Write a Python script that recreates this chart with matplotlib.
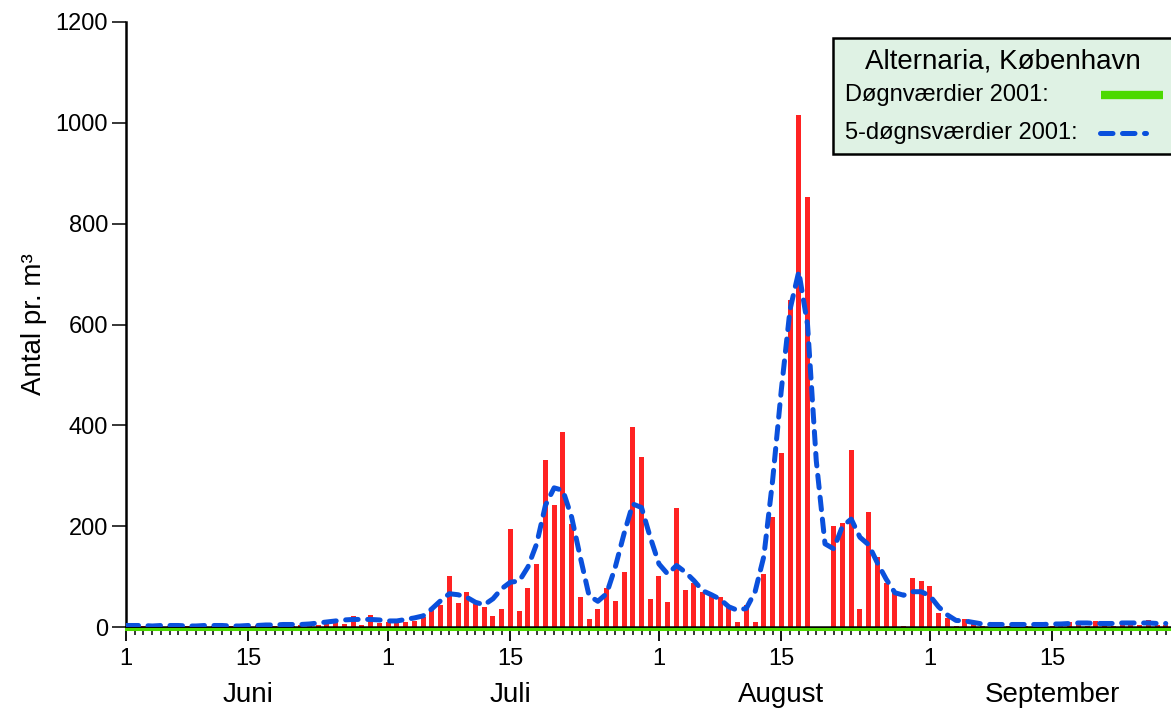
import numpy as np
import matplotlib
matplotlib.use("Agg")
import matplotlib.pyplot as plt
from matplotlib.lines import Line2D
from matplotlib.patches import Rectangle
import matplotlib.transforms as mtransforms

plt.rcParams['font.family'] = ['Liberation Sans', 'DejaVu Sans']

# daily counts, 1 June (day 0) to 28 September 2001
daily = [2, 1, 2, 1, 2, 1, 1, 2, 1, 1, 2, 1, 2, 1, 2, 3, 2, 2, 5, 2,
         4, 2, 3, 11, 9, 5, 22, 3, 24, 8, 9, 7, 9, 12, 19, 33, 44, 102, 47, 70,
         45, 39, 21, 35, 195, 31, 78, 124, 332, 241, 387, 205, 60, 15, 35, 78, 52, 110, 397, 338,
         56, 102, 49, 237, 74, 88, 69, 62, 59, 42, 10, 44, 10, 105, 218, 346, 649, 1016, 853, 0,
         0, 201, 206, 352, 35, 229, 138, 88, 67, 1, 98, 92, 82, 27, 17, 2, 15, 11, 2, 2,
         1, 2, 2, 1, 3, 2, 2, 3, 9, 3, 2, 11, 3, 2, 3, 9, 4, 13, 4, 3]

# 5-day values
five_day = [3, 3, 3, 2, 3, 3, 3, 2, 2, 3, 3, 3, 2, 2, 3, 3, 4, 4, 5, 5,
            5, 6, 8, 10, 12, 14, 15, 15, 15, 14, 12, 12, 15, 18, 22, 36, 52, 66, 64, 59,
            49, 44, 56, 76, 89, 91, 119, 165, 241, 276, 271, 218, 138, 62, 51, 66, 119, 185, 244, 237,
            178, 125, 105, 122, 109, 92, 72, 64, 55, 40, 33, 37, 70, 140, 290, 470, 630, 705, 600, 330,
            165, 155, 200, 214, 178, 163, 127, 95, 68, 63, 70, 70, 62, 40, 24, 13, 12, 9, 6, 5,
            5, 5, 5, 5, 5, 5, 6, 6, 7, 8, 8, 7, 7, 7, 8, 8, 8, 8, 7, 7]

days = np.arange(len(daily))

month_names = ['Juni', 'Juli', 'August', 'September']
month_mid = [14, 44, 75, 106]
tick_days = [0, 14, 30, 44, 61, 75, 92, 106]
tick_labels = ['1', '15', '1', '15', '1', '15', '1', '15']

red = '#ff2222'
blue = '#0a50dc'
green = '#4cd900'
dash = (0, (2.5, 1.9))

fig = plt.figure(figsize=(11.71, 7.08), dpi=100)
ax = fig.add_axes([126 / 1171, 1 - 627 / 708, 1045 / 1171, 605 / 708])

ax.bar(days, daily, width=0.57, color=red, zorder=2)
ax.plot(days, five_day, color=blue, lw=3.6, linestyle=dash,
        dash_capstyle='round', zorder=4)

# green baseline just under the x axis
off = mtransforms.offset_copy(ax.transData, fig=fig, x=0, y=-2.2, units='dots')
ax.plot([0, 125], [0, 0], color=green, lw=2.2, transform=off, clip_on=False, zorder=3)

ax.set_xlim(0, 119.6)
ax.set_ylim(0, 1200)

ax.spines['top'].set_visible(False)
ax.spines['right'].set_visible(False)
ax.spines['left'].set_linewidth(1.8)
ax.spines['bottom'].set_linewidth(1.8)

ax.set_xticks(tick_days)
ax.set_xticklabels(tick_labels)
ax.set_xticks(days, minor=True)
ax.tick_params(axis='x', which='major', direction='out', length=10, width=1.3, pad=5, labelsize=17)
ax.tick_params(axis='x', which='minor', direction='out', length=5.5, width=1.1)

ax.set_yticks(np.arange(0, 1201, 200))
ax.tick_params(axis='y', direction='out', length=10, width=1.1, pad=3, labelsize=17)

ax.set_ylabel('Antal pr. m³', fontsize=20)
ax.yaxis.set_label_coords(-0.076, 0.5)

for name, d in zip(month_names, month_mid):
    ax.annotate(name, xy=(d, 0), xycoords=('data', 'axes fraction'),
                xytext=(0, -49), textcoords='offset points',
                ha='center', va='center', fontsize=20)

# legend box
W, H = 1171, 708
def fx(px):
    return px / W
def fy(py):
    return 1 - py / H

box = Rectangle((fx(833), fy(154)), fx(1180) - fx(833), fy(38) - fy(154),
                transform=fig.transFigure, facecolor='#dff2e4', edgecolor='black',
                lw=1.8, zorder=10)
fig.add_artist(box)
fig.text(fx(1003), fy(61), 'Alternaria, København', ha='center', va='center',
         fontsize=20, zorder=11)
fig.text(fx(845), fy(95), 'Døgnværdier 2001:', ha='left', va='center',
         fontsize=17, zorder=11)
fig.text(fx(845), fy(133), '5-døgnsværdier 2001:', ha='left', va='center',
         fontsize=17, zorder=11)
fig.add_artist(Line2D([fx(1101), fx(1163)], [fy(95), fy(95)], transform=fig.transFigure,
                      color=green, lw=6, solid_capstyle='butt', zorder=11))
fig.add_artist(Line2D([fx(1100), fx(1146)], [fy(133), fy(133)], transform=fig.transFigure,
                      color=blue, lw=3.6, linestyle=dash,
                      dash_capstyle='round', zorder=11))

fig.savefig('out.png', dpi=100)
